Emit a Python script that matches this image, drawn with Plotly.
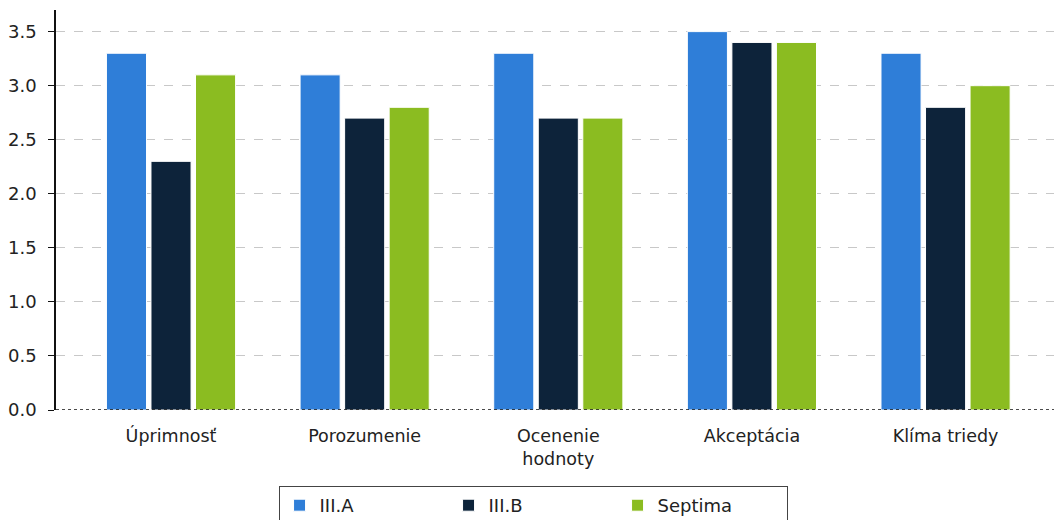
import plotly.graph_objects as go

categories = ["Úprimnosť", "Porozumenie", "Ocenenie<br>hodnoty", "Akceptácia", "Klíma triedy"]
series_names = ["III.A", "III.B", "Septima"]
values_a = [3.3, 3.1, 3.3, 3.5, 3.3]
values_b = [2.3, 2.7, 2.7, 3.4, 2.8]
values_septima = [3.1, 2.8, 2.7, 3.4, 3.0]
colors = ["#2f7ed8", "#0d233a", "#8bbc21"]
y_ticks = [0.0, 0.5, 1.0, 1.5, 2.0, 2.5, 3.0, 3.5]

fig = go.Figure()
for name, vals, col in zip(series_names, [values_a, values_b, values_septima], colors):
    fig.add_trace(go.Bar(
        name=name, x=categories, y=vals,
        marker=dict(color=col, line=dict(color="white", width=1)),
    ))

font_family = "DejaVu Sans, Verdana, sans-serif"

fig.update_layout(
    width=1054, height=520,
    margin=dict(l=56, r=0, t=10, b=110, autoexpand=False),
    paper_bgcolor="white", plot_bgcolor="white",
    barmode="group", bargap=0.31, bargroupgap=0.1,
    font=dict(family=font_family, color="#222"),
    showlegend=True,
    legend=dict(
        orientation="h", x=0.223, xanchor="left", y=-0.19, yanchor="top",
        bordercolor="#444", borderwidth=1, bgcolor="white",
        font=dict(size=18, color="#222"),
        entrywidth=124, entrywidthmode="pixels",
        itemwidth=30, tracegroupgap=0,
    ),
    xaxis=dict(
        range=[-0.594, 4.56], showline=False, showgrid=False,
        ticks="outside", ticklen=0, ticklabelstandoff=10,
        tickfont=dict(size=17.5, color="#222"), fixedrange=True,
    ),
    yaxis=dict(
        range=[0, 3.7], tickvals=y_ticks, ticktext=[f"{v:.1f}" for v in y_ticks],
        showgrid=True, gridcolor="#c8c8c8", griddash="dash", gridwidth=1,
        showline=True, linecolor="#111", linewidth=1.5,
        ticks="outside", ticklen=6, tickcolor="#111", ticklabelstandoff=8,
        tickfont=dict(size=18, color="#222"), zeroline=False,
    ),
)

# dotted baseline at zero
fig.add_shape(type="line", xref="paper", yref="y", x0=0, x1=1, y0=0, y1=0,
              line=dict(color="#111", width=1.5, dash="dot"), layer="above")

fig.write_html("out.html")
